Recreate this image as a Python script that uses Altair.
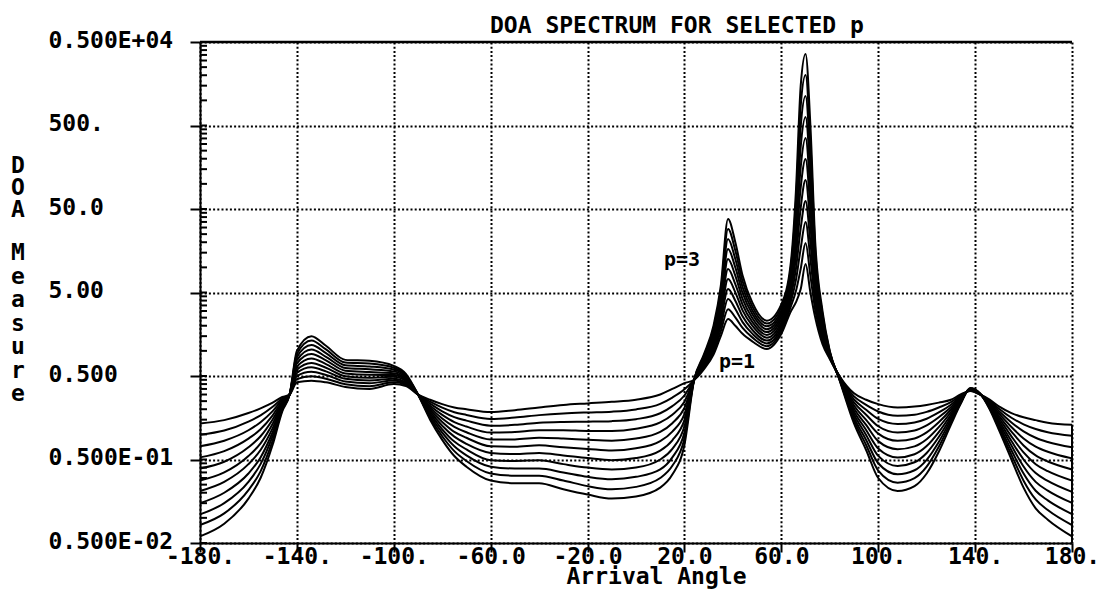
import altair as alt
import pandas as pd

# Arrival angles (degrees) at which the curves were read
angle = [-180, -170, -160, -155, -150, -146, -143, -140, -134, -128,
         -120, -110, -100, -95, -90, -85, -80, -75, -70, -60,
         -50, -40, -30, -20, -10, 0, 10, 15, 20, 24,
         28, 32, 35, 38, 41, 44, 48, 54, 60, 64,
         66, 68, 70, 72, 74, 77, 80, 84, 90, 95,
         100, 108, 115, 120, 125, 130, 134, 138, 142, 146,
         150, 155, 160, 165, 170, 180]

# DOA measure for each selected p (p = 1.0 ... 3.0)
p_1_0 = [0.135, 0.148, 0.18, 0.205, 0.24, 0.28, 0.3, 0.42, 0.44, 0.42,
         0.37, 0.35, 0.40, 0.38, 0.3, 0.26, 0.23, 0.21, 0.2, 0.185,
         0.195, 0.21, 0.225, 0.235, 0.245, 0.26, 0.3, 0.35, 0.41, 0.45,
         0.6, 0.9, 1.5, 2.4, 2.0, 1.6, 1.3, 1.05, 1.6, 3.0,
         3.8, 5.5, 11, 5, 2.5, 1.2, 0.8, 0.5, 0.31, 0.26,
         0.23, 0.21, 0.215, 0.225, 0.24, 0.26, 0.30, 0.33, 0.30, 0.26,
         0.215, 0.18, 0.16, 0.148, 0.138, 0.13]
p_1_2 = [0.099, 0.111, 0.142, 0.169, 0.214, 0.269, 0.3, 0.458, 0.497, 0.464,
         0.398, 0.378, 0.420, 0.393, 0.3, 0.246, 0.209, 0.184, 0.171, 0.153,
         0.159, 0.170, 0.178, 0.183, 0.187, 0.199, 0.232, 0.276, 0.346, 0.45,
         0.625, 0.974, 1.72, 3.16, 2.52, 1.88, 1.45, 1.135, 1.735, 3.45,
         5.16, 9.63, 19.6, 7.9, 3.08, 1.315, 0.818, 0.495, 0.285, 0.226,
         0.188, 0.167, 0.172, 0.186, 0.21, 0.243, 0.292, 0.333, 0.301, 0.253,
         0.201, 0.158, 0.132, 0.116, 0.106, 0.096]
p_1_4 = [0.072, 0.084, 0.112, 0.140, 0.190, 0.259, 0.3, 0.499, 0.562, 0.514,
         0.429, 0.409, 0.442, 0.406, 0.3, 0.233, 0.189, 0.161, 0.146, 0.127,
         0.130, 0.138, 0.141, 0.142, 0.144, 0.152, 0.179, 0.218, 0.292, 0.45,
         0.650, 1.055, 1.98, 4.17, 3.17, 2.21, 1.61, 1.228, 1.88, 3.96,
         6.99, 16.9, 35.0, 12.6, 3.79, 1.44, 0.836, 0.49, 0.262, 0.197,
         0.153, 0.133, 0.139, 0.154, 0.183, 0.226, 0.285, 0.336, 0.302, 0.247,
         0.188, 0.139, 0.1085, 0.091, 0.081, 0.070]
p_1_6 = [0.053, 0.063, 0.089, 0.115, 0.169, 0.249, 0.3, 0.544, 0.635, 0.568,
         0.463, 0.442, 0.465, 0.420, 0.3, 0.220, 0.171, 0.140, 0.124, 0.105,
         0.107, 0.112, 0.112, 0.110, 0.110, 0.117, 0.139, 0.172, 0.246, 0.45,
         0.677, 1.143, 2.27, 5.50, 3.99, 2.59, 1.79, 1.328, 2.04, 4.55,
         9.48, 29.6, 62.4, 19.9, 4.67, 1.58, 0.855, 0.484, 0.241, 0.172,
         0.125, 0.105, 0.111, 0.128, 0.160, 0.211, 0.277, 0.339, 0.303, 0.240,
         0.176, 0.1225, 0.0894, 0.0713, 0.0619, 0.0516]
p_1_8 = [0.039, 0.047, 0.070, 0.095, 0.151, 0.240, 0.3, 0.594, 0.718, 0.628,
         0.498, 0.477, 0.489, 0.434, 0.3, 0.209, 0.155, 0.123, 0.106, 0.087,
         0.087, 0.091, 0.089, 0.086, 0.084, 0.089, 0.107, 0.136, 0.208, 0.45,
         0.705, 1.238, 2.61, 7.24, 5.02, 3.05, 2.0, 1.437, 2.21, 5.22,
         12.9, 51.8, 111, 31.6, 5.74, 1.73, 0.875, 0.479, 0.222, 0.149,
         0.102, 0.0837, 0.0894, 0.1056, 0.1396, 0.197, 0.270, 0.342, 0.304, 0.234,
         0.164, 0.108, 0.0737, 0.0559, 0.0473, 0.038]
p_2_0 = [0.028, 0.035, 0.055, 0.078, 0.134, 0.231, 0.3, 0.648, 0.812, 0.695,
         0.537, 0.516, 0.514, 0.449, 0.3, 0.197, 0.141, 0.107, 0.091, 0.072,
         0.071, 0.074, 0.070, 0.067, 0.064, 0.068, 0.083, 0.108, 0.175, 0.45,
         0.735, 1.341, 3.0, 9.55, 6.32, 3.58, 2.22, 1.554, 2.40, 6.0,
         17.4, 90.8, 199, 50, 7.07, 1.90, 0.894, 0.474, 0.204, 0.130,
         0.083, 0.0664, 0.0718, 0.0874, 0.122, 0.184, 0.263, 0.345, 0.305, 0.228,
         0.154, 0.0948, 0.0607, 0.0439, 0.0362, 0.0279]
p_2_2 = [0.021, 0.027, 0.044, 0.065, 0.119, 0.222, 0.3, 0.707, 0.918, 0.769,
         0.578, 0.557, 0.540, 0.464, 0.3, 0.187, 0.127, 0.094, 0.077, 0.060,
         0.058, 0.060, 0.056, 0.052, 0.049, 0.052, 0.064, 0.085, 0.148, 0.45,
         0.765, 1.453, 3.45, 12.6, 7.96, 4.20, 2.48, 1.681, 2.60, 6.89,
         23.6, 159, 355, 79, 8.71, 2.08, 0.915, 0.469, 0.188, 0.113,
         0.0678, 0.0528, 0.0577, 0.0724, 0.1065, 0.1715, 0.256, 0.347, 0.306, 0.222,
         0.1437, 0.0834, 0.050, 0.0344, 0.0277, 0.0205]
p_2_4 = [0.015, 0.020, 0.034, 0.053, 0.106, 0.214, 0.3, 0.771, 1.038, 0.850,
         0.623, 0.602, 0.568, 0.480, 0.3, 0.177, 0.115, 0.082, 0.066, 0.049,
         0.048, 0.049, 0.044, 0.040, 0.038, 0.040, 0.050, 0.067, 0.125, 0.45,
         0.797, 1.574, 3.96, 16.6, 10.0, 4.94, 2.76, 1.818, 2.82, 7.91,
         32.1, 279, 633, 126, 10.7, 2.28, 0.935, 0.464, 0.173, 0.0985,
         0.0553, 0.0419, 0.0463, 0.0599, 0.093, 0.160, 0.249, 0.350, 0.307, 0.216,
         0.1344, 0.0734, 0.0412, 0.027, 0.0212, 0.0151]
p_2_6 = [0.011, 0.015, 0.027, 0.044, 0.095, 0.205, 0.3, 0.841, 1.173, 0.941,
         0.672, 0.651, 0.597, 0.496, 0.3, 0.167, 0.105, 0.072, 0.056, 0.041,
         0.039, 0.039, 0.035, 0.031, 0.029, 0.031, 0.038, 0.053, 0.105, 0.45,
         0.829, 1.704, 4.55, 21.9, 12.6, 5.80, 3.07, 1.967, 3.06, 9.09,
         43.5, 488, 1130, 199, 13.2, 2.50, 0.956, 0.459, 0.159, 0.0858,
         0.0451, 0.0333, 0.0372, 0.0496, 0.0812, 0.1493, 0.243, 0.353, 0.308, 0.211,
         0.1257, 0.0646, 0.0339, 0.0211, 0.0162, 0.0111]
p_2_8 = [0.0082, 0.0113, 0.0215, 0.036, 0.084, 0.198, 0.3, 0.917, 1.327, 1.040,
         0.724, 0.704, 0.628, 0.513, 0.3, 0.158, 0.095, 0.063, 0.048, 0.034,
         0.032, 0.032, 0.028, 0.024, 0.022, 0.0235, 0.030, 0.042, 0.089, 0.45,
         0.864, 1.846, 5.22, 28.8, 15.9, 6.81, 3.41, 2.128, 3.32, 10.4,
         59.0, 856, 2016, 316, 16.2, 2.74, 0.978, 0.455, 0.147, 0.0747,
         0.0368, 0.0264, 0.0299, 0.041, 0.0709, 0.1393, 0.236, 0.357, 0.309, 0.205,
         0.1175, 0.0568, 0.0279, 0.0166, 0.0124, 0.0082]
p_3_0 = [0.006, 0.0085, 0.017, 0.03, 0.075, 0.19, 0.3, 1.0, 1.5, 1.15,
         0.78, 0.76, 0.66, 0.53, 0.3, 0.15, 0.086, 0.055, 0.041, 0.028,
         0.026, 0.026, 0.022, 0.019, 0.017, 0.018, 0.023, 0.033, 0.075, 0.45,
         0.9, 2.0, 6.0, 38, 20, 8.0, 3.8, 2.3, 3.6, 12,
         80, 1500, 3600, 500, 20, 3.0, 1.0, 0.45, 0.135, 0.065,
         0.03, 0.021, 0.024, 0.034, 0.062, 0.13, 0.23, 0.36, 0.31, 0.2,
         0.11, 0.05, 0.023, 0.013, 0.0095, 0.006]

curves = {"1.0": p_1_0, "1.2": p_1_2, "1.4": p_1_4, "1.6": p_1_6, "1.8": p_1_8,
          "2.0": p_2_0, "2.2": p_2_2, "2.4": p_2_4, "2.6": p_2_6, "2.8": p_2_8,
          "3.0": p_3_0}

# Axis ticks and labels
x_ticks = [-180, -140, -100, -60, -20, 20, 60, 100, 140, 180]
x_labels = ["-180.", "-140.", "-100.", "-60.0", "-20.0", "20.0", "60.0", "100.", "140.", "180."]
y_ticks = [0.005, 0.05, 0.5, 5, 50, 500, 5000]
y_labels = ["0.500E-02", "0.500E-01", "0.500", "\u00a05.00", "\u00a050.0", "\u00a0500.", "0.500E+04"]
minor_multipliers = [2, 3, 4, 5, 6, 7, 8, 9]
decades = [0.005, 0.05, 0.5, 5, 50, 500]

# Texts
title_text = "DOA SPECTRUM FOR SELECTED p"
x_title = "Arrival Angle"
y_title_top = ["D", "O", "A"]
y_title_bottom = ["M", "e", "a", "s", "u", "r", "e"]

# Curve annotations
ann_angle = [19, 41.7]
ann_value = [12.3, 0.74]
ann_text = ["p=3", "p=1"]

rows = []
for p, vals in curves.items():
    for a, v in zip(angle, vals):
        rows.append({"angle": a, "value": v, "p": p})
df = pd.DataFrame(rows)

minor = [d * m for d in decades for m in minor_multipliers] + y_ticks
minor_df = pd.DataFrame({"value": minor})
ann_df = pd.DataFrame({"angle": ann_angle, "value": ann_value, "text": ann_text})
end_df = pd.DataFrame({"angle": [angle[-1]], "value": [y_ticks[0]], "value2": [p_1_0[-1]]})
one = pd.DataFrame({"k": [0]})

FONT = "DejaVu Sans Mono"
FS = 23
FW = "bold"

xexpr = " : ".join(f"datum.value == {v} ? '{l}'" for v, l in zip(x_ticks, x_labels)) + " : ''"
yexpr = " : ".join(f"abs(log(datum.value / {v})) < 0.01 ? '{l}'" for v, l in zip(y_ticks, y_labels)) + " : ''"

W, H = 872, 501

xscale = alt.Scale(domain=[-180, 180], nice=False, zero=False)
yscale = alt.Scale(type="log", domain=[0.005, 5000], nice=False)

xaxis = alt.Axis(values=x_ticks, labelExpr=xexpr, grid=True, gridColor="black",
                 gridDash=[2, 2.2], gridWidth=2, gridOpacity=1,
                 domainColor="black", domainWidth=2, tickColor="black", tickWidth=2,
                 tickSize=9, labelFont=FONT, labelFontSize=FS, labelFontWeight=FW,
                 labelColor="black",
                 labelPadding=11, labelBaseline="alphabetic", labelAlign="center",
                 labelFlush=False, labelOverlap=False,
                 title=x_title, titleFont=FONT, titleFontSize=FS,
                 titleFontWeight=FW, titleColor="black", titleX=456, titleY=40,
                 titleBaseline="alphabetic", titleAlign="center")

yaxis = alt.Axis(values=y_ticks, labelExpr=yexpr, grid=True, gridColor="black",
                 gridDash=[2, 2.2], gridWidth=2, gridOpacity=1,
                 domainColor="black", domainWidth=2, tickColor="black", tickWidth=2,
                 tickSize=10, labelFont=FONT, labelFontSize=FS, labelFontWeight=FW,
                 labelColor="black",
                 labelPadding=142, labelAlign="left", labelBaseline="middle",
                 labelOffset=-2, labelFlush=False, labelOverlap=False,
                 title="")

X = alt.X("angle:Q", scale=xscale, axis=xaxis)
Y = alt.Y("value:Q", scale=yscale, axis=yaxis)

lines = alt.Chart(df).mark_line(color="black", strokeWidth=2, interpolate="monotone").encode(
    x=X, y=Y, detail="p:N", order="angle:Q")

minor_ticks = alt.Chart(minor_df).mark_rule(color="black", strokeWidth=2).encode(
    y=Y, x=alt.value(0), x2=alt.value(7))

top_border = alt.Chart(one).mark_rule(color="black", strokeWidth=2.5).encode(
    x=alt.value(0), x2=alt.value(W), y=alt.value(0))

end_rule = alt.Chart(end_df).mark_rule(color="black", strokeWidth=2).encode(
    x=X, y=Y, y2="value2:Q")

labels = alt.Chart(ann_df).mark_text(font=FONT, fontSize=20, fontWeight=FW, color="black",
                                     align="center", baseline="middle").encode(
    x=X, y=Y, text="text:N")

title_mark = alt.Chart(one).mark_text(text=title_text, font=FONT, fontSize=FS, fontWeight=FW,
                                      color="black", align="left", baseline="alphabetic").encode(
    x=alt.value(290), y=alt.value(-9))

ytitle_a = alt.Chart(one).mark_text(text=y_title_top, font=FONT, fontSize=FS, fontWeight=FW,
                                    color="black", align="center", baseline="top",
                                    lineHeight=22).encode(
    x=alt.value(-182), y=alt.value(113))

ytitle_b = alt.Chart(one).mark_text(text=y_title_bottom, font=FONT, fontSize=FS, fontWeight=FW,
                                    color="black", align="center", baseline="top",
                                    lineHeight=23.5).encode(
    x=alt.value(-182), y=alt.value(200))

chart = alt.layer(lines, minor_ticks, top_border, end_rule, labels,
                  title_mark, ytitle_a, ytitle_b).properties(
    width=W, height=H,
    autosize=alt.AutoSizeParams(type="none"),
    padding={"left": 200, "top": 42, "right": 40, "bottom": 51},
    background="white",
).configure_view(stroke="transparent")

chart.save("out.html", embed_options={"renderer": "svg", "actions": False})
